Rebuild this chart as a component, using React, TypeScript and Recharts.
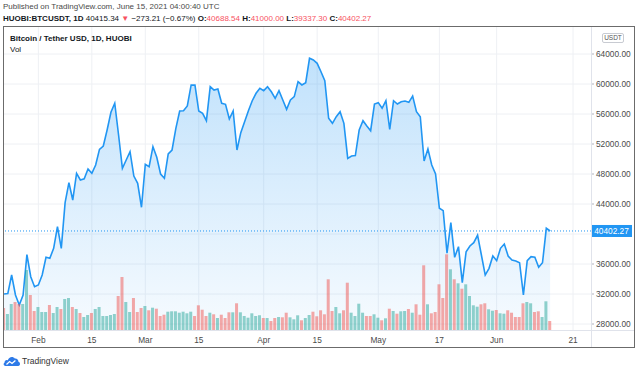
import React from 'react';
import { ComposedChart, Area, Bar, Cell, XAxis, YAxis, CartesianGrid, ReferenceLine } from 'recharts';

const FONT = "'Liberation Sans', Arial, sans-serif";

// daily closes from 2021-01-23 to 2021-06-15 (HUOBI BTC/USDT, 1D)
const startDate = '2021-01-23';

const closes = [
  // Jan 23 - Jan 31
  32000, 32050, 34530, 31870, 30530, 31870, 37240, 34310, 32970,
  // Feb
  33200, 34530, 36890, 36760, 38090, 40970, 38090, 44170, 46840, 44530,
  48090, 47200, 47350, 48670, 48090, 49200, 51290, 51730, 53870, 56230,
  57430, 53200, 48760, 49870, 50970, 47730, 46760, 43560,
  // Mar
  49290, 48970, 51640, 50230, 48000, 47430, 50670, 51200, 54090, 56400,
  56440, 57070, 59870, 59850, 56400, 56090, 55110, 59640, 59200, 59330,
  57430, 57290, 55330, 56400, 51200, 53510, 54970, 56440, 57770, 58760,
  59430,
  // Apr
  59110, 59640, 58970, 58090, 59110, 57870, 56630, 57870, 58310, 60310,
  59870, 60170, 63430, 63200, 62760, 61640, 60440, 55430, 54760, 55640,
  56310, 54760, 50090, 50400, 50450, 53870, 55110, 54400, 53770, 57330,
  // May
  57510, 56760, 57770, 53960, 57770, 57330, 57640, 57730, 57560, 58400,
  56310, 55640, 49730, 51330, 49200, 48000, 43430, 43110, 37430, 41510,
  36890, 38310, 33510, 37640, 38400, 38840, 39830, 37200, 34530, 35420,
  37070,
  // Jun 1 - Jun 15
  36440, 38090, 38670, 37070, 36530, 36400, 36170, 31870, 36440, 36970,
  36890, 35560, 36170, 40760, 40402.27,
];

// volume, thousands
const volumes = [
  22, 16, 26, 28, 26, 26, 60, 35, 19,
  23, 18, 18, 25, 17, 23, 21, 31, 32, 23,
  21, 17, 13, 15, 17, 21, 23, 14, 14, 15,
  16, 34, 53, 28, 18, 32, 18, 22,
  24, 19.7, 22.3, 21.3, 14, 15.3, 18.3, 18.7, 18.7, 17.3,
  18.3, 16.7, 18.3, 14, 24.7, 20.3, 14, 17.3, 15.7, 12,
  15.3, 12, 17.7, 17.7, 26.7, 17.7, 14, 12.3, 16.7, 14,
  14.7,
  12, 12, 9, 12, 13, 12.7, 17.3, 12.7, 10.7, 14.7,
  9.7, 12, 15, 18.3, 13.7, 19.7, 15.7, 50.7, 19, 23,
  16.7, 19.7, 47.3, 17.3, 14, 26.3, 17.3, 14, 14, 15.7,
  12.3, 9.7, 11.7, 21.3, 19, 16.3, 18.7, 19, 21, 17.3,
  25.7, 15.3, 64.7, 25.7, 16.7, 18, 45.7, 32, 75.7, 60.7,
  50.7, 46.7, 41.3, 45.7, 34, 24.7, 23.3, 25.7, 26.7, 20.7,
  19.3,
  20, 16.7, 16.3, 19.7, 17.3, 13, 13, 26.7, 28, 26.7,
  18, 18.7, 13, 28.7, 9,
];

const tickDates = ['2021-02-01', '2021-02-15', '2021-03-01', '2021-03-15', '2021-04-01', '2021-04-15', '2021-05-01', '2021-05-17', '2021-06-01', '2021-06-21'];
const tickLabels = ['Feb', '15', 'Mar', '15', 'Apr', '15', 'May', '17', 'Jun', '21'];
const priceTicks = [28000, 32000, 36000, 40000, 44000, 48000, 52000, 56000, 60000, 64000];

const DAY = 86400000;
const dayOf = (d: string) => Math.round((Date.parse(d) - Date.parse(startDate)) / DAY);
const tickDays = tickDates.map(dayOf);
const labelByDay: Record<number, string> = {};
tickDays.forEach((d, i) => { labelByDay[d] = tickLabels[i]; });

const lastClose = closes[closes.length - 1];

const data = closes.map((close, i) => ({
  day: i,
  close,
  vol: volumes[i],
  up: i > 0 && close >= closes[i - 1],
}));

const PriceTick = (props: any) => {
  const { x, y, payload } = props;
  const v = payload.value;
  if (v === lastClose) {
    return (
      <g>
        <rect x={x - 5} y={y - 6} width={41} height={12} fill="#2196f3" />
        <text x={x + 15.5} y={y} dy="0.35em" textAnchor="middle" fill="#fff" fontSize={8.3} fontFamily={FONT}>
          {v.toFixed(2)}
        </text>
      </g>
    );
  }
  if (Math.abs(v - lastClose) < 1500) return <g />;
  return (
    <text x={x} y={y} dy="0.35em" fill="#4a4a4a" fontSize={8.3} fontFamily={FONT}>
      {v.toFixed(2)}
    </text>
  );
};

const red = '#f7525f';

export default function App() {
  return (
    <div style={{ position: 'absolute', left: 0, top: 0, width: 640, height: 372, background: '#fff', fontFamily: FONT, color: '#131722', overflow: 'hidden' }}>
      {/* header */}
      <div style={{ position: 'absolute', left: 3, top: 2, fontSize: 8, lineHeight: '10px', color: '#4a4a4a', whiteSpace: 'nowrap' }}>
        Published on TradingView.com, June 15, 2021 04:00:40 UTC
      </div>
      <div style={{ position: 'absolute', left: 3, top: 14, fontSize: 8, lineHeight: '10px', whiteSpace: 'nowrap' }}>
        <b>HUOBI:BTCUSDT, 1D</b> 40415.34 <span style={{ color: red }}>▼</span> −273.21 (−0.67%){' '}
        <b>O:</b><span style={{ color: red }}>40688.54</span> <b>H:</b><span style={{ color: red }}>41000.00</span>{' '}
        <b>L:</b><span style={{ color: red }}>39337.30</span> <b>C:</b><span style={{ color: red }}>40402.27</span>
      </div>

      {/* chart */}
      <div style={{ position: 'absolute', left: 4, top: 27 }}>
        <ComposedChart width={631} height={321} data={data} margin={{ top: 0, right: 0, bottom: 0, left: 0 }}>
          <defs>
            <linearGradient id="areaFill" x1="0" y1="0" x2="0" y2="1">
              <stop offset="0%" stopColor="#2196f3" stopOpacity={0.28} />
              <stop offset="100%" stopColor="#2196f3" stopOpacity={0.04} />
            </linearGradient>
          </defs>
          <CartesianGrid stroke="#eef0f4" xAxisId="time" yAxisId="price" horizontalValues={priceTicks} verticalValues={tickDays} />
          <XAxis
            xAxisId="time"
            type="number"
            dataKey="day"
            domain={[0, 153.7]}
            allowDataOverflow
            ticks={tickDays}
            interval={0}
            tickFormatter={(v: number) => labelByDay[v] ?? ''}
            height={18}
            axisLine={false}
            tickLine={false}
            tickSize={4}
            tickMargin={2.7}
            tick={{ fontSize: 8.3, fill: '#4a4a4a', fontFamily: FONT }}
          />
          <YAxis
            yAxisId="price"
            orientation="right"
            width={44}
            domain={[27200, 67600]}
            allowDataOverflow
            ticks={[...priceTicks, lastClose]}
            interval={0}
            axisLine={false}
            tickLine={{ stroke: '#b2b5be' }}
            tickSize={3}
            tickMargin={2}
            tick={<PriceTick />}
          />
          <YAxis yAxisId="vol" hide domain={[0, 303]} allowDataOverflow />
          <Area
            xAxisId="time"
            yAxisId="price"
            type="linear"
            dataKey="close"
            stroke="#2196f3"
            strokeWidth={1.6}
            fill="url(#areaFill)"
            fillOpacity={1}
            dot={false}
            activeDot={false}
            isAnimationActive={false}
          />
          <Bar xAxisId="time" yAxisId="vol" dataKey="vol" barSize={3} isAnimationActive={false}>
            {data.map((d, i) => (
              <Cell key={i} fill={d.up ? 'rgba(38,166,154,0.5)' : 'rgba(239,83,80,0.5)'} />
            ))}
          </Bar>
          <ReferenceLine xAxisId="time" yAxisId="price" y={lastClose} stroke="#2196f3" strokeDasharray="1 2" strokeWidth={1} />
        </ComposedChart>
      </div>

      {/* separators and frame */}
      <div style={{ position: 'absolute', left: 591, top: 27, width: 1, height: 321, background: '#e0e3eb' }} />
      <div style={{ position: 'absolute', left: 4, top: 330, width: 631, height: 1, background: '#e0e3eb' }} />
      <div style={{ position: 'absolute', left: 3, top: 26, width: 632, height: 322, border: '1px solid #6b6b6b', boxSizing: 'border-box' }} />

      {/* legend */}
      <div style={{ position: 'absolute', left: 10, top: 34, fontSize: 8, lineHeight: '10px', fontWeight: 'bold', whiteSpace: 'nowrap' }}>
        Bitcoin / Tether USD, 1D, HUOBI
      </div>
      <div style={{ position: 'absolute', left: 10, top: 44.5, fontSize: 8, lineHeight: '10px', whiteSpace: 'nowrap' }}>Vol</div>
      <div style={{ position: 'absolute', left: 602, top: 33, width: 22, height: 10, border: '1px solid #c8cbd2', borderRadius: 2, boxSizing: 'border-box', fontSize: 6.5, lineHeight: '8px', textAlign: 'center', color: '#555', background: '#fff' }}>
        USDT
      </div>

      {/* footer */}
      <svg style={{ position: 'absolute', left: 3, top: 355 }} width={18} height={12} viewBox="0 0 18 12">
        <path d="M2.5 11 C0.5 11 0 8.6 1.6 7.6 C1.4 5.6 3.4 4.6 4.8 5.4 C5.6 2 9.8 0.8 11.8 3.6 C13.6 3.2 15.6 4.6 15.4 6.8 C17.4 7.2 17.8 11 15.2 11 Z" fill="#2d7ae8" />
        <path d="M3.5 9.5 L6.6 6.6 L9 8.4 L12.4 5.4" stroke="#fff" strokeWidth={1.3} fill="none" />
      </svg>
      <div style={{ position: 'absolute', left: 22, top: 356, fontSize: 8.5, lineHeight: '10px', color: '#333', whiteSpace: 'nowrap' }}>TradingView</div>
    </div>
  );
}
